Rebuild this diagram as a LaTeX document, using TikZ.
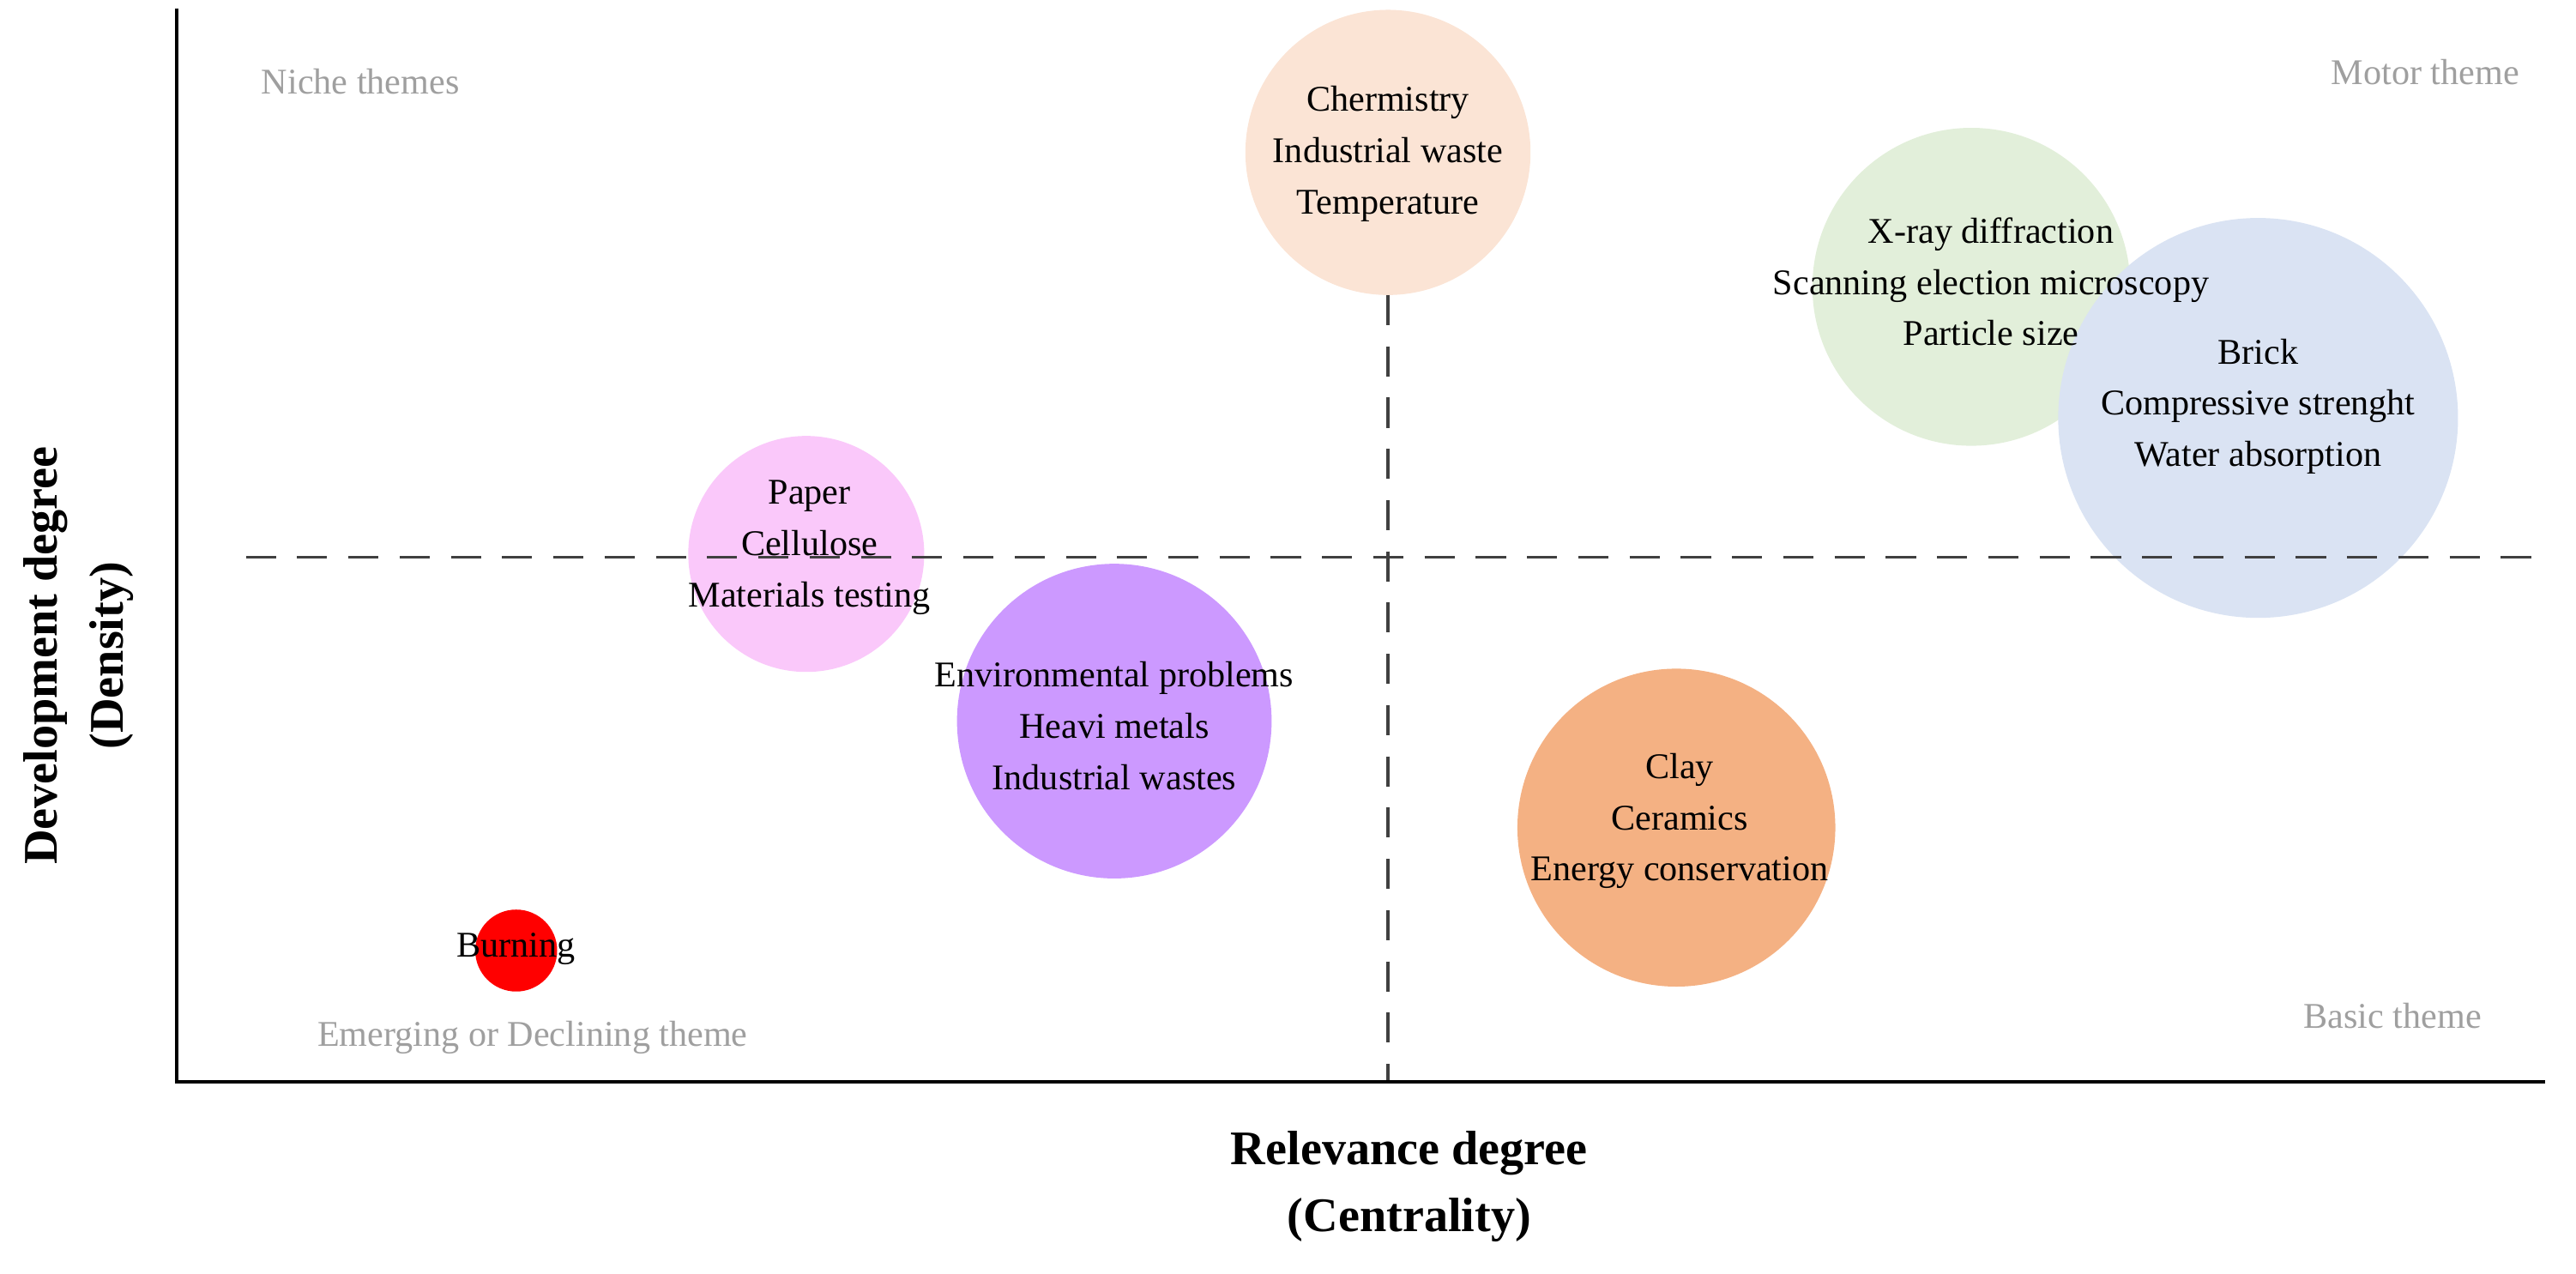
\documentclass[tikz,border=0pt]{standalone}
\usepackage{fontspec}
\setmainfont{Liberation Serif}
\begin{document}
\begin{tikzpicture}[x=0.0191cm,y=-0.0191cm,
  bub/.style={circle,inner sep=0pt,minimum size=#1*0.0191cm},
  lab/.style={align=center,font=\fontsize{12}{17}\selectfont},
  quad/.style={text=gray!75,font=\fontsize{12}{14}\selectfont},
  dsh/.style={gray!50!black,line width=1pt,dash pattern=on 10pt off 7pt},
  axl/.style={align=center,font=\bfseries\fontsize{16}{22}\selectfont}]
\useasboundingbox (0,0) rectangle (1572,777);
\node[bub=174,fill={rgb,255:red,251;green,228;blue,213}] (c1) at (847,93) {};
\node[bub=194,fill={rgb,255:red,226;green,239;blue,218}] (c2) at (1203,175) {};
\node[bub=244,fill={rgb,255:red,218;green,227;blue,243}] (c3) at (1378,255) {};
\node[bub=144,fill={rgb,255:red,250;green,200;blue,250}] (c4) at (492,338) {};
\node[bub=192,fill={rgb,255:red,204;green,153;blue,255}] (c5) at (680,440) {};
\node[bub=194,fill={rgb,255:red,244;green,177;blue,131}] (c6) at (1023,505) {};
\node[bub=50,fill=red] (c7) at (315,580) {};
\coordinate (hl) at (150,340); \coordinate (hr) at (1553,340);
\coordinate (vt) at (847,180); \coordinate (vb) at (847,660);
\draw[dsh] (hl) -- (hr);
\draw[dsh] (vt) -- (vb);
\coordinate (o) at (108,660); \coordinate (yt) at (108,5); \coordinate (xr) at (1553,660);
\draw[line width=1.2pt] (yt) -- (o) -- (xr);
\node[lab] (t1) at (847,94) {Chermistry\\Industrial waste\\Temperature};
\node[lab] (t2) at (1215,172) {X-ray diffraction\\Scanning election microscopy\\Particle size};
\node[lab] (t3) at (1378,248) {Brick\\Compressive strenght\\Water absorption};
\node[lab] (t4) at (494,334) {Paper\\Cellulose\\Materials testing};
\node[lab] (t5) at (680,443) {Environmental problems\\Heavi metals\\Industrial wastes};
\node[lab] (t6) at (1025,501) {Clay\\Ceramics\\Energy conservation};
\node[lab] (t7) at (315,579) {Burning};
\node[quad] (q1) at (220,50) {Niche themes};
\node[quad] (q2) at (1480,44) {Motor theme};
\node[quad] (q3) at (1460,620) {Basic theme};
\node[quad] (q4) at (325,633) {Emerging or Declining theme};
\node[axl] (ax) at (860,724) {Relevance degree\\(Centrality)};
\node[axl,rotate=90] (ay) at (48,400) {Development degree\\(Density)};
\end{tikzpicture}
\end{document}
